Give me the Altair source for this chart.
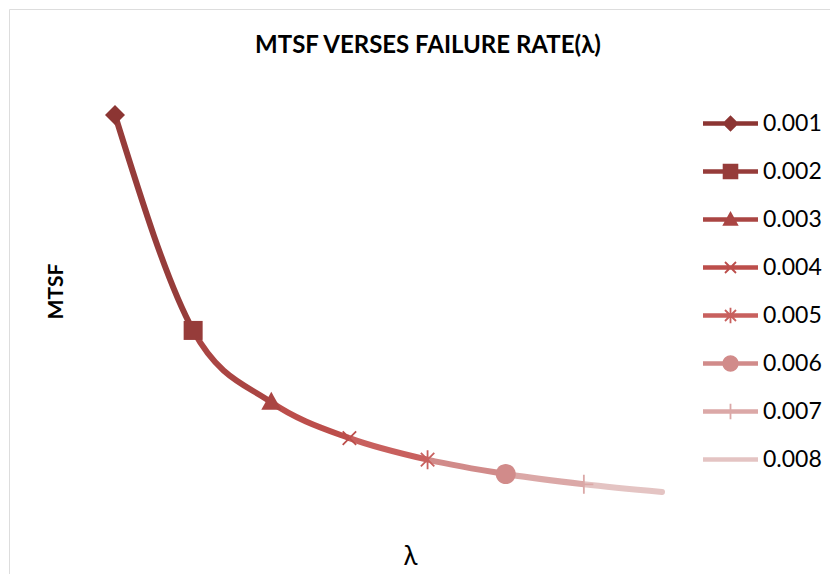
import math
import altair as alt
import pandas as pd

# ---- data ----
lam_values = [0.001, 0.002, 0.003, 0.004, 0.005, 0.006, 0.007, 0.008]
lam_labels = ["0.001", "0.002", "0.003", "0.004", "0.005", "0.006", "0.007", "0.008"]
mtsf_values = [1000, 500, 333.3, 250, 200, 166.7, 142.9, 125]
series_colors = ["#8C3533", "#963C3A", "#AA4543", "#BC4E4B",
                 "#C8605E", "#D18B8A", "#DBA8A7", "#E4C4C3"]

df = pd.DataFrame({"lam": lam_values, "label": lam_labels, "mtsf": mtsf_values})

FONT = "Lato"


# ---- marker shapes (unit symbol paths) ----
def poly(pts):
    return "M" + " L".join(f"{x:.3f},{y:.3f}" for x, y in pts) + " Z"


def scale_pts(pts, k):
    return [(x * k, y * k) for x, y in pts]


def bar(L, w, ang):
    a = math.radians(ang)
    c, s = math.cos(a), math.sin(a)
    pts = [(-L, -w), (L, -w), (L, w), (-L, w)]
    return [(x * c - y * s, x * s + y * c) for x, y in pts]


def circle_pts(r, n=36):
    return [(r * math.cos(2 * math.pi * i / n), r * math.sin(2 * math.pi * i / n)) for i in range(n)]


def marker_parts(k):
    sw = 0.09
    return [
        [[(0, -1.0 * k), (1.0 * k, 0), (0, 1.0 * k), (-1.0 * k, 0)]],
        [scale_pts([(-1, -1), (1, -1), (1, 1), (-1, 1)], k * 0.95)],
        [scale_pts([(0, -1.05), (1, 0.75), (-1, 0.75)], k)],
        [bar(0.95 * k, sw, 45), bar(0.95 * k, sw, 135)],
        [bar(0.95 * k, sw, 45), bar(0.95 * k, sw, 135), bar(0.95 * k, sw, 90)],
        [circle_pts(1.0 * k)],
        [bar(0.95 * k, sw, 90), bar(0.95 * k, sw, 0)],
        [],
    ]


plot_shapes = [" ".join(poly(p) for p in parts) if parts else "M0,0 L0,0 Z"
               for parts in marker_parts(1.0)]
legend_line = bar(2.75, 0.22, 0)
legend_shapes = [" ".join(poly(p) for p in [legend_line] + parts)
                 for parts in marker_parts(0.82)]

# ---- scales (view spans the whole rounded frame) ----
x_scale = alt.Scale(domain=[-0.0003565, 0.010649], nice=False, zero=False)
y_scale = alt.Scale(domain=[-146.55, 1246.0], nice=False, zero=False)

x_enc = alt.X("lam:Q", scale=x_scale,
              axis=alt.Axis(title="λ", labels=False, ticks=False, domain=False, grid=False,
                            titleFont=FONT, titleFontSize=26, titleFontWeight="normal",
                            titleColor="black", titleX=401, titleY=-45,
                            titleAlign="center", titleBaseline="alphabetic"))
y_enc = alt.Y("mtsf:Q", scale=y_scale,
              axis=alt.Axis(title="MTSF", labels=False, ticks=False, domain=False, grid=False,
                            titleFont=FONT, titleFontSize=21, titleFontWeight="bold",
                            titleColor="black", titleAngle=270, titleX=47, titleY=282,
                            titleAlign="center", titleBaseline="middle"))

# gradient: each segment takes the colour of the point it ends on
n = len(lam_values)
stops = []
for i in range(1, n):
    stops.append({"offset": (i - 1) / (n - 1), "color": series_colors[i]})
    stops.append({"offset": i / (n - 1), "color": series_colors[i]})
gradient = {"gradient": "linear", "x1": 0, "x2": 1, "y1": 0, "y2": 0, "stops": stops}

line = alt.Chart(df).mark_line(
    interpolate="monotone", strokeWidth=6, strokeCap="round", stroke=gradient
).encode(x=x_enc, y=y_enc, order="lam:Q")

points = alt.Chart(df).transform_filter(
    alt.datum.label != "0.008"
).mark_point(filled=True, size=400, opacity=1, strokeWidth=0).encode(
    x=x_enc, y=y_enc,
    shape=alt.Shape("label:N", scale=alt.Scale(domain=lam_labels, range=plot_shapes), legend=None),
    color=alt.Color("label:N", scale=alt.Scale(domain=lam_labels, range=series_colors), legend=None),
)

leg = alt.Legend(title=None, orient="none", legendX=710, legendY=103, symbolSize=400,
                 symbolStrokeWidth=0, symbolOpacity=1, labelFont=FONT, labelFontSize=23,
                 labelColor="black", labelOffset=21, rowPadding=24, padding=0, labelLimit=300)

legend_layer = alt.Chart(df).mark_point(filled=True, size=400, opacity=0).encode(
    x=x_enc, y=y_enc,
    shape=alt.Shape("label:N", scale=alt.Scale(domain=lam_labels, range=legend_shapes), legend=leg),
    color=alt.Color("label:N", scale=alt.Scale(domain=lam_labels, range=series_colors), legend=leg),
)

chart = alt.layer(line, points, legend_layer).resolve_scale(
    shape="independent", color="independent"
).properties(
    width=860, height=600,
    autosize=alt.AutoSizeParams(type="none"),
    padding={"left": 1, "top": 1, "right": -39, "bottom": -35},
    title=alt.TitleParams(text="MTSF VERSES FAILURE RATE(λ)", font=FONT, fontSize=24,
                          fontWeight="bold", color="black", anchor="middle",
                          offset=-68, baseline="alphabetic", dx=-11),
).configure_view(
    stroke="#8C8C8C", strokeWidth=1.5, cornerRadius=20, fill="white"
).configure(background="white")

chart.save("out.html", embed_options={"renderer": "svg", "actions": False})
